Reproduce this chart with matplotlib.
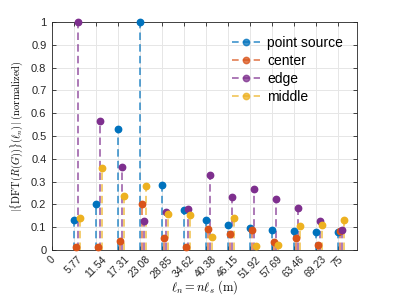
import numpy as np
import matplotlib
matplotlib.use("Agg")
from matplotlib import pyplot as plt
from matplotlib.lines import Line2D
from matplotlib.legend_handler import HandlerLine2D

plt.rcParams['font.family'] = ['Liberation Sans', 'DejaVu Sans']
plt.rcParams['mathtext.fontset'] = 'cm'

ls = 5.77
n = np.arange(1, 14)
ticks = [0, 5.77, 11.54, 17.31, 23.08, 28.85, 34.62, 40.38, 46.15, 51.92, 57.69, 63.46, 69.23, 75]
tick_labels = ['0', '5.77', '11.54', '17.31', '23.08', '28.85', '34.62', '40.38',
               '46.15', '51.92', '57.69', '63.46', '69.23', '75']

point_source = [0.13, 0.20, 0.529, 1.0, 0.284, 0.174, 0.132, 0.111, 0.096, 0.086, 0.082, 0.080, 0.079]
center = [0.013, 0.014, 0.039, 0.203, 0.053, 0.013, 0.092, 0.069, 0.090, 0.034, 0.053, 0.023, 0.082]
edge = [1.0, 0.564, 0.363, 0.129, 0.165, 0.180, 0.327, 0.232, 0.269, 0.222, 0.184, 0.126, 0.086]
middle = [0.14, 0.36, 0.238, 0.282, 0.157, 0.154, 0.058, 0.142, 0.018, 0.022, 0.105, 0.110, 0.130]

series = [('point source', point_source, '#0072BD'),
          ('center', center, '#D95319'),
          ('edge', edge, '#7E2F8E'),
          ('middle', middle, '#EDB120')]


class StemHandler(HandlerLine2D):
    # dashed line with the marker at its right end, like a matlab stem legend
    def get_xdata(self, legend, xdescent, ydescent, width, height, fontsize):
        xdata = np.array([-xdescent, -xdescent + width])
        return xdata, np.array([-xdescent + width])


fig = plt.figure(figsize=(3.95, 2.96), dpi=100)
ax = fig.add_axes([0.1316, 0.155, 0.772, 0.771])

handles = []
for k, (name, vals, col) in enumerate(series):
    x = n * ls + k * 0.55
    ax.vlines(x, 0, vals, colors=col, linestyles=(0, (4.5, 2.5)), linewidth=1.2, alpha=0.75, zorder=2)
    ax.plot(x, vals, 'o', color=col, markersize=4.6, zorder=3, clip_on=False)
    handles.append(Line2D([], [], color=col, linestyle=(0, (4, 2.5)), linewidth=1.2, alpha=0.75,
                          marker='o', markersize=4.6, markerfacecolor=col, markeredgecolor=col))

ax.set_xlim(0, 80)
ax.set_ylim(0, 1)
ax.set_xticks(ticks)
ax.set_xticklabels(tick_labels, rotation=45, ha='center', va='top')
ax.get_xticklabels()[4].set_color('red')
ax.set_yticks(np.arange(0, 1.01, 0.1))
ax.set_yticklabels(['0', '0.1', '0.2', '0.3', '0.4', '0.5', '0.6', '0.7', '0.8', '0.9', '1'])
ax.tick_params(direction='in', top=True, right=True, labelsize=8, colors='#262626',
               length=3, width=0.6)
ax.tick_params(axis='x', pad=3, labelsize=7.5)
ax.tick_params(axis='y', pad=4)
for s in ax.spines.values():
    s.set_color('#262626')
    s.set_linewidth(0.6)
ax.grid(True, color='#e6e6e6', linewidth=0.7)
ax.set_axisbelow(True)

ax.set_xlabel(r'$\ell_n = n\ell_s\ \mathrm{(m)}$', fontsize=9, labelpad=-1.5)
ax.set_ylabel(r'$|\{\mathrm{DFT}(R(G))\}(\ell_n)|\ \mathrm{(normalized)}$', fontsize=7.5, labelpad=4)

leg = ax.legend(handles, [s[0] for s in series], loc='upper right', frameon=False,
                fontsize=10, numpoints=1, handlelength=2.0, handletextpad=0.5,
                labelspacing=0.3, borderaxespad=0.6,
                handler_map={Line2D: StemHandler()})

fig.savefig('out.png', dpi=100)
